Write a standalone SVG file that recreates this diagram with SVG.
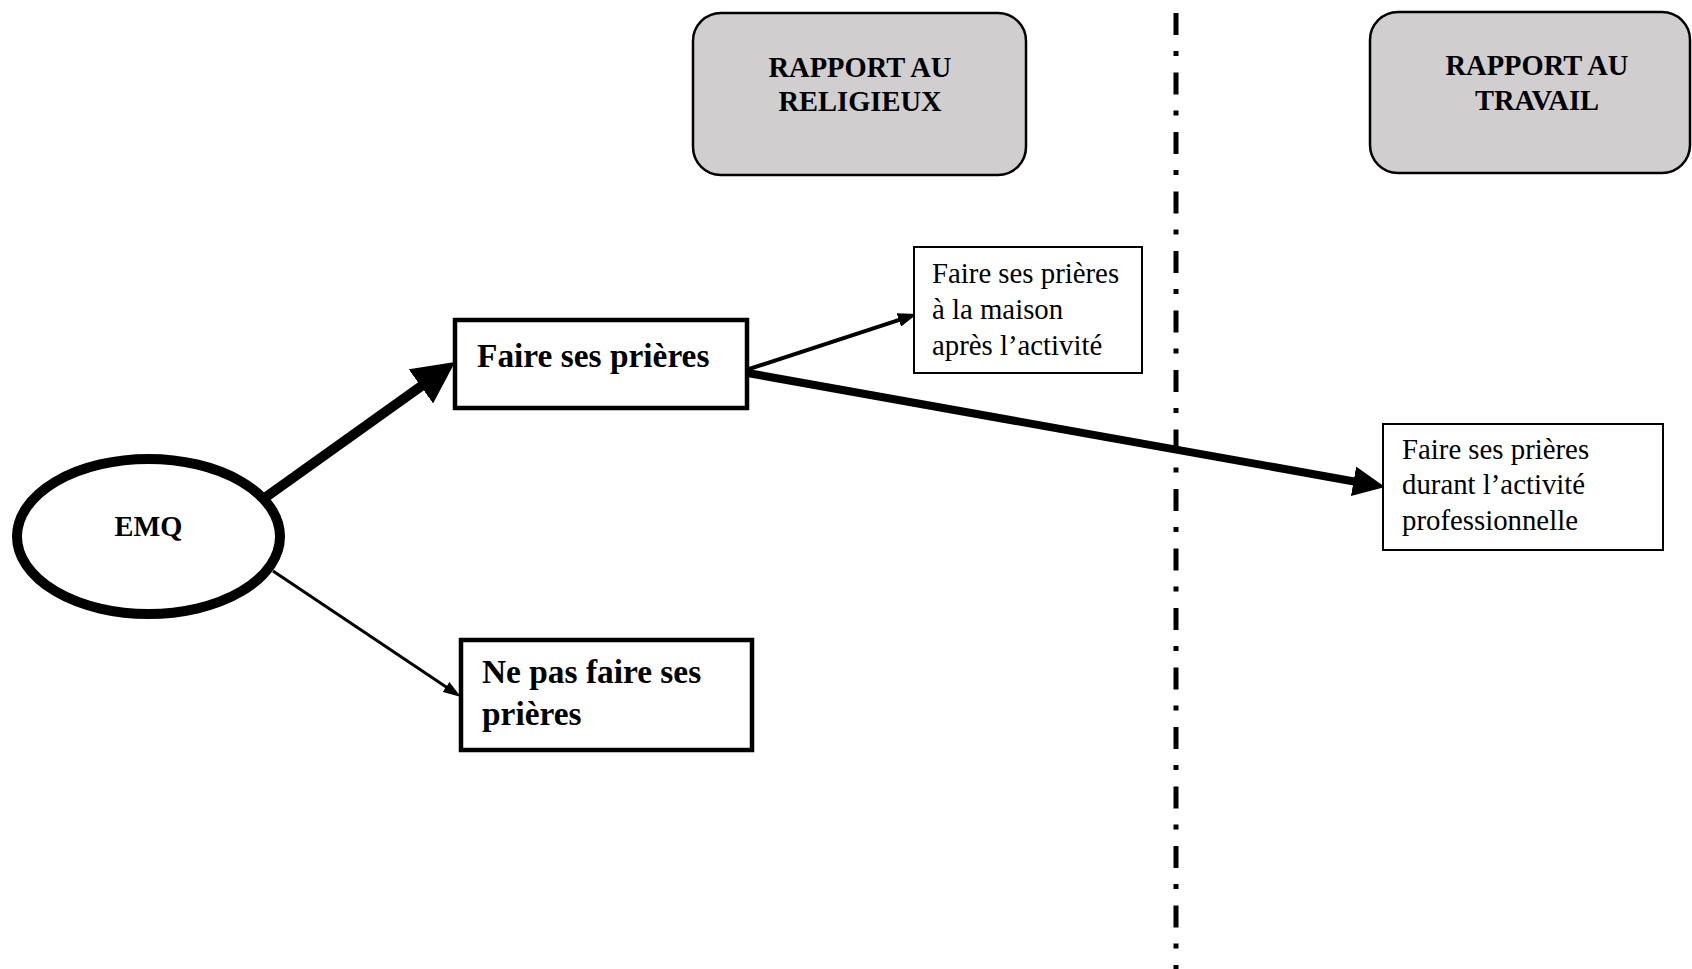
<svg xmlns="http://www.w3.org/2000/svg" width="1692" height="969" viewBox="0 0 1692 969">
  <style>
    .hdr { fill: #d0cecf; stroke: #000; stroke-width: 2.5; }
    .hdr-t { font-family: "Liberation Serif", "Times New Roman", serif; font-weight: bold; font-size: 28.5px; fill: #000; text-anchor: middle; }
    .main-box { fill: #fff; stroke: #000; stroke-width: 4.5; }
    .main-t { font-family: "Liberation Serif", "Times New Roman", serif; font-weight: bold; font-size: 33.4px; fill: #000; }
    .sub-box { fill: #fff; stroke: #000; stroke-width: 2; }
    .sub-t { font-family: "Liberation Serif", "Times New Roman", serif; font-size: 28.8px; fill: #000; }
    .link { stroke: #000; fill: none; stroke-linecap: butt; }
  </style>
  <defs>
    <marker id="head-xl" markerUnits="userSpaceOnUse" markerWidth="42" markerHeight="42" refX="2" refY="21" orient="auto" viewBox="0 0 42 42">
      <path d="M0,0 L42,21 L0,42 z" fill="#000"/>
    </marker>
    <marker id="head-l" markerUnits="userSpaceOnUse" markerWidth="32" markerHeight="30" refX="2" refY="15" orient="auto" viewBox="0 0 32 30">
      <path d="M0,0 L32,15 L0,30 z" fill="#000"/>
    </marker>
    <marker id="head-s" markerUnits="userSpaceOnUse" markerWidth="19" markerHeight="14" refX="2" refY="7" orient="auto" viewBox="0 0 19 14">
      <path d="M0,0 L19,7 L0,14 z" fill="#000"/>
    </marker>
    <marker id="head-xs" markerUnits="userSpaceOnUse" markerWidth="18" markerHeight="12" refX="2" refY="6" orient="auto" viewBox="0 0 18 12">
      <path d="M0,0 L18,6 L0,12 z" fill="#000"/>
    </marker>
  </defs>

  <rect width="1692" height="969" fill="#fff"/>

  <!-- dash-dot divider between the two domains -->
  <line x1="1176" y1="13" x2="1176" y2="969" stroke="#000" stroke-width="5" stroke-dasharray="22 16 5 16.5"/>

  <g id="rapport-religieux">
    <rect class="hdr" x="693" y="13" width="333" height="162" rx="28" ry="28"/>
    <text class="hdr-t" x="860" y="77">RAPPORT AU</text>
    <text class="hdr-t" x="860" y="111">RELIGIEUX</text>
  </g>

  <g id="rapport-travail">
    <rect class="hdr" x="1370" y="12" width="320" height="161" rx="28" ry="28"/>
    <text class="hdr-t" x="1537" y="75">RAPPORT AU</text>
    <text class="hdr-t" x="1537" y="110">TRAVAIL</text>
  </g>

  <g id="connectors">
    <line class="link" x1="266" y1="497" x2="422.5" y2="385.2" stroke-width="10" marker-end="url(#head-xl)"/>
    <line class="link" x1="273" y1="571" x2="447.7" y2="688.1" stroke-width="3" marker-end="url(#head-xs)"/>
    <line class="link" x1="743" y1="371" x2="900.8" y2="319.3" stroke-width="4" marker-end="url(#head-s)"/>
    <line class="link" x1="742" y1="372" x2="1355.5" y2="481.7" stroke-width="8" marker-end="url(#head-l)"/>
  </g>

  <g id="emq">
    <ellipse cx="148.5" cy="536.5" rx="131.5" ry="77.5" fill="#fff" stroke="#000" stroke-width="10"/>
    <text x="148.5" y="536" font-family="Liberation Serif, Times New Roman, serif" font-weight="bold" font-size="28.4" text-anchor="middle">EMQ</text>
  </g>

  <g id="faire-prieres">
    <rect class="main-box" x="455" y="320" width="292" height="88"/>
    <text class="main-t" x="477" y="367">Faire ses prières</text>
  </g>

  <g id="ne-pas-faire">
    <rect class="main-box" x="461" y="640" width="291" height="110"/>
    <text class="main-t" x="482" y="683">Ne pas faire ses</text>
    <text class="main-t" x="482" y="725">prières</text>
  </g>

  <g id="prieres-maison">
    <rect class="sub-box" x="914" y="247" width="228" height="126"/>
    <text class="sub-t" x="932" y="283">Faire ses prières</text>
    <text class="sub-t" x="932" y="319">à la maison</text>
    <text class="sub-t" x="932" y="355">après l’activité</text>
  </g>

  <g id="prieres-activite">
    <rect class="sub-box" x="1383" y="424" width="280" height="126"/>
    <text class="sub-t" x="1402" y="459">Faire ses prières</text>
    <text class="sub-t" x="1402" y="494">durant l’activité</text>
    <text class="sub-t" x="1402" y="530">professionnelle</text>
  </g>
</svg>
